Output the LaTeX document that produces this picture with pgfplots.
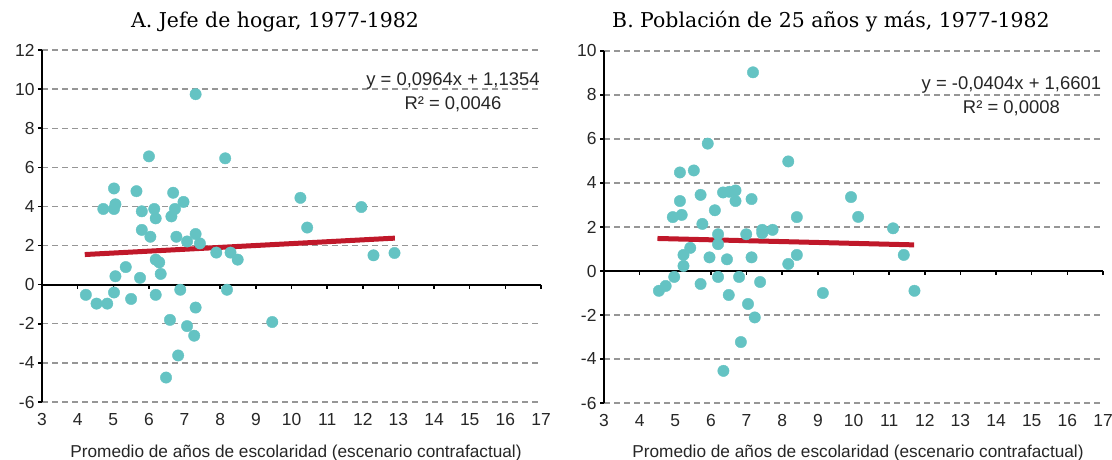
\documentclass[border=0pt]{standalone}
\usepackage{pgfplots}
\pgfplotsset{compat=1.18}
\usepackage{fontspec}
\setmainfont{DejaVu Serif}
\newfontfamily\cond{Liberation Sans}
\definecolor{dot}{RGB}{100,195,195}
\definecolor{trend}{RGB}{192,24,42}
\definecolor{gridc}{RGB}{150,150,150}
\pgfplotsset{panel/.style={
  scale only axis, width=499bp, height=352bp,
  xmin=3, xmax=17, xtick={3,4,5,6,7,8,9,10,11,12,13,14,15,16,17},
  xticklabels={3,4,5,6,7,8,9,10,11,12,13,14,15,16,17},
  axis y line=left, axis x line=bottom,
  x axis line style={draw=none},
  y axis line style={line width=1.8bp, -},
  xtick style={draw=none},
  ytick style={line width=1.5bp, black},
  tick align=outside, major tick length=4bp,
  ymajorgrids, grid style={gridc, line width=1.3bp, dash pattern=on 6bp off 4bp},
  ticklabel style={font=\cond\fontsize{17.5}{20}\selectfont, text=black!85},
  xticklabel style={yshift=-4bp},
  clip=false,
}}
\begin{document}
\begin{tikzpicture}
\useasboundingbox (0,0) rectangle (1112bp,460bp);
% Panel A
\begin{axis}[panel, at={(42bp,58bp)}, anchor=south west,
  ymin=-6, ymax=12, ytick={-6,-4,-2,0,2,4,6,8,10,12},
  yticklabels={-6,-4,-2,0,2,4,6,8,10,12}]
\addplot[only marks, mark=*, color=dot, mark size=5.7bp] table {
5.02 4.92
5.65 4.78
6.68 4.70
6.97 4.23
5.06 4.11
4.72 3.87
5.02 3.87
5.80 3.75
6.15 3.87
6.19 3.39
6.73 3.87
6.63 3.49
5.80 2.80
6.04 2.45
6.77 2.45
7.31 2.59
7.07 2.21
7.43 2.11
7.89 1.64
8.29 1.64
8.49 1.28
6.19 1.28
6.29 1.14
6.33 0.55
5.75 0.35
5.35 0.90
5.06 0.43
4.23 -0.52
4.53 -0.97
4.83 -0.97
5.02 -0.40
5.50 -0.73
6.19 -0.52
6.88 -0.26
8.19 -0.26
7.31 -1.17
6.59 -1.80
7.07 -2.12
7.27 -2.61
6.82 -3.62
7.31 9.74
6.00 6.56
8.14 6.46
6.48 -4.75
9.46 -1.91
10.25 4.44
11.96 3.97
10.44 2.92
12.30 1.50
12.89 1.62
};
\addplot[trend, line width=5bp] coordinates {(4.2,1.5403) (12.9,2.3790)};
\draw[line width=1.8bp] (axis cs:3,0) -- (axis cs:17,0);
\pgfplotsinvokeforeach{4,...,17}{\draw[line width=1.5bp] (axis cs:#1,0) -- ++(0pt,-4bp);}
\node[align=center, font=\cond\fontsize{18.5}{24}\selectfont, text=black!85] at (axis cs:14.53,9.86) {y = 0,0964x + 1,1354\\R² = 0,0046};
\end{axis}
% Panel B
\begin{axis}[panel, at={(604bp,57bp)}, anchor=south west,
  ymin=-6, ymax=10, ytick={-6,-4,-2,0,2,4,6,8,10},
  yticklabels={-6,-4,-2,0,2,4,6,8,10}]
\addplot[only marks, mark=*, color=dot, mark size=5.7bp] table {
5.91 5.79
8.17 4.98
5.13 4.48
5.52 4.57
5.71 3.46
6.34 3.57
6.52 3.60
6.69 3.66
6.69 3.18
7.14 3.27
5.13 3.18
6.11 2.76
4.93 2.45
5.18 2.55
8.41 2.45
5.76 2.14
6.20 1.67
6.20 1.22
6.99 1.67
7.44 1.87
7.44 1.72
7.73 1.87
5.42 1.05
5.23 0.73
5.23 0.23
5.96 0.62
6.45 0.53
7.14 0.62
8.17 0.32
8.41 0.73
4.97 -0.27
4.73 -0.68
4.54 -0.90
5.71 -0.59
6.20 -0.27
6.79 -0.27
7.38 -0.50
6.50 -1.09
7.04 -1.50
7.23 -2.11
6.84 -3.23
6.35 -4.54
9.14 -1.00
7.18 9.03
9.93 3.36
10.13 2.46
11.11 1.94
11.41 0.73
11.71 -0.90
};
\addplot[trend, line width=5bp] coordinates {(4.5,1.4783) (11.7,1.1874)};
\draw[line width=1.8bp] (axis cs:3,0) -- (axis cs:17,0);
\pgfplotsinvokeforeach{4,...,17}{\draw[line width=1.5bp] (axis cs:#1,0) -- ++(0pt,-4bp);}
\node[align=center, font=\cond\fontsize{18.5}{24}\selectfont, text=black!85] at (axis cs:14.43,7.93) {y = -0,0404x + 1,6601\\R² = 0,0008};
\end{axis}
\node[font=\fontsize{20.5}{24}\selectfont] at (275bp,438bp) {A. Jefe de hogar, 1977-1982};
\node[font=\fontsize{20.5}{24}\selectfont] at (831bp,438bp) {B. Población de 25 años y más, 1977-1982};
\node[anchor=base, font=\cond\fontsize{17.3}{20}\selectfont, text=black!85] at (296bp,3bp) {Promedio de años de escolaridad (escenario contrafactual)};
\node[anchor=base, font=\cond\fontsize{17.3}{20}\selectfont, text=black!85] at (858bp,3bp) {Promedio de años de escolaridad (escenario contrafactual)};
\end{tikzpicture}
\end{document}
